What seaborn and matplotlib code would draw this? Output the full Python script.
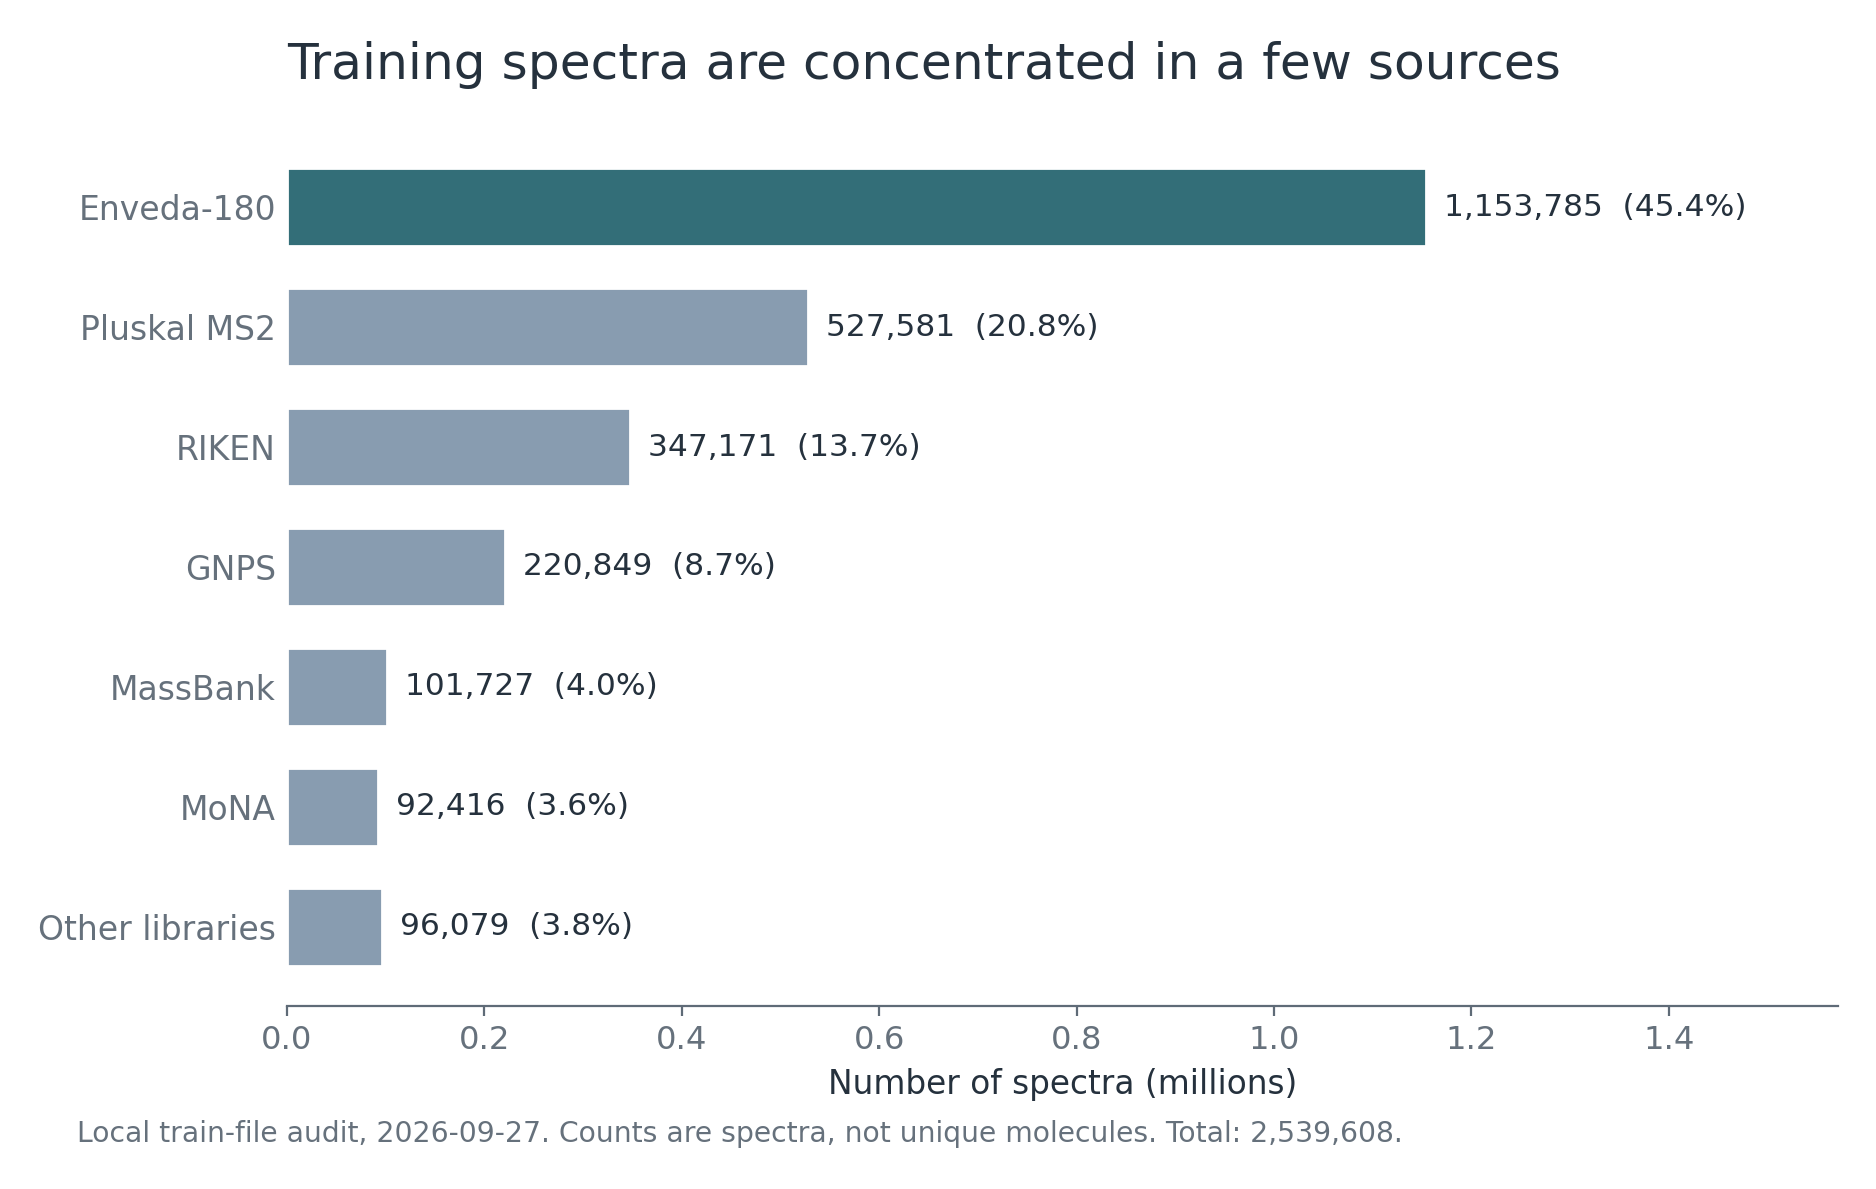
import matplotlib
matplotlib.use("Agg")
import matplotlib.pyplot as plt
import seaborn as sns
import pandas as pd

# data
sources = ["Enveda-180", "Pluskal MS2", "RIKEN", "GNPS", "MassBank", "MoNA", "Other libraries"]
counts = [1153785, 527581, 347171, 220849, 101727, 92416, 96079]
highlight = "Enveda-180"

TEAL = "#336e78"
SLATE = "#889cb0"
DARK = "#25313d"
GREY = "#66717c"
SPINE = "#5f6b77"

sns.set_theme(style="white")
plt.rcParams['font.family'] = ['DejaVu Sans']

df = pd.DataFrame({"source": sources, "count": counts})
df["millions"] = df["count"] / 1e6
total = df["count"].sum()
df["share"] = df["count"] / total * 100

fig = plt.figure(figsize=(9.38, 5.945), dpi=200)
ax = fig.add_axes([0.153, 0.154, 0.9797 - 0.153, 0.8923 - 0.154])

palette = {s: (TEAL if s == highlight else SLATE) for s in sources}
sns.barplot(data=df, x="millions", y="source", hue="source", palette=palette,
            order=sources, width=0.65, legend=False, ax=ax, saturation=1)

for i, row in df.iterrows():
    ax.annotate(f"{row['count']:,}  ({row['share']:.1f}%)", (row["millions"], i),
                xytext=(6.5, 0), textcoords="offset points", va="center", ha="left",
                fontsize=11.25, color=DARK)

ax.set_xlim(0, df["millions"].max() * 1.362)
ax.set_ylim(6.66, -0.66)
ax.set_xticks([0, 0.2, 0.4, 0.6, 0.8, 1.0, 1.2, 1.4])
ax.set_xticklabels([f"{t:.1f}" for t in ax.get_xticks()])
ax.set_ylabel("")
ax.set_xlabel("Number of spectra (millions)", fontsize=11.8, color=DARK)
ax.xaxis.label.set_va("baseline")
ax.xaxis.set_label_coords(0.5, -0.1002)

for side in ["top", "right", "left"]:
    ax.spines[side].set_visible(False)
ax.spines["bottom"].set_color(SPINE)
ax.spines["bottom"].set_linewidth(0.8)
ax.tick_params(axis="x", bottom=True, length=3.5, width=0.8, color=SPINE,
               labelsize=11.6, labelcolor=GREY, pad=3.5)
ax.tick_params(axis="y", left=False, length=0, labelsize=11.9, labelcolor=GREY, pad=4)

fig.text(0.153, 0.9336, "Training spectra are concentrated in a few sources",
         fontsize=18.1, color=DARK, ha="left", va="baseline")
fig.text(0.041, 0.0396,
         f"Local train-file audit, 2026-09-27. Counts are spectra, not unique molecules. Total: {total:,}.",
         fontsize=10.2, color=GREY, ha="left", va="baseline")

fig.savefig("out.png", dpi=200)
